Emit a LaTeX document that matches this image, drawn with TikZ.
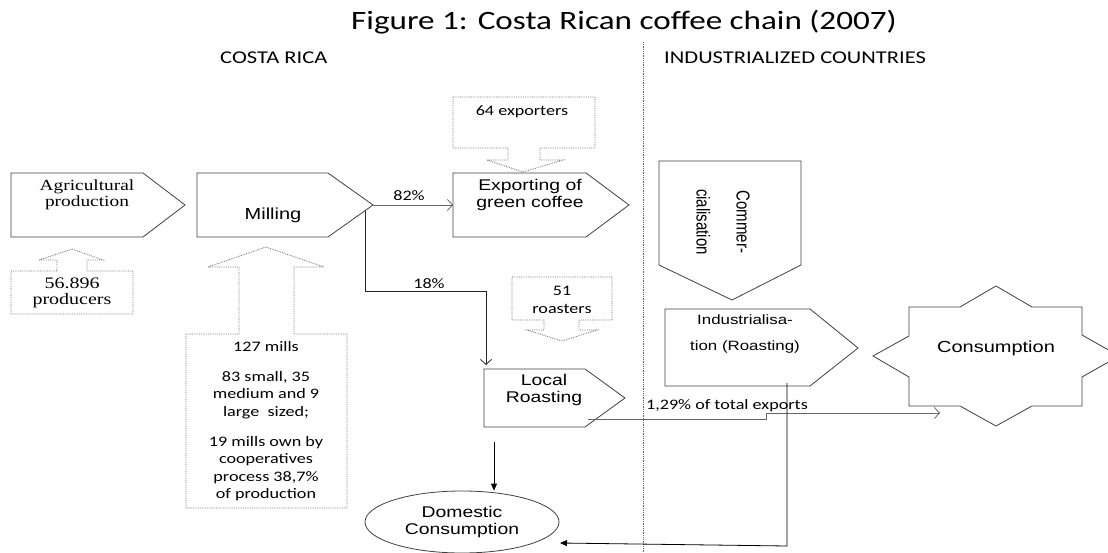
\documentclass[tikz,border=0pt]{standalone}
\usepackage{fontspec}
\setmainfont{Carlito}
\usetikzlibrary{arrows.meta,shapes.geometric}
\newfontfamily\fcal[FakeStretch=1.25]{Carlito}
\newfontfamily\fari[FakeStretch=1.25]{Liberation Sans}
\newfontfamily\ftim[FakeStretch=1.25]{Liberation Serif}
\newfontfamily\fariN{Liberation Sans}
\begin{document}
\begin{tikzpicture}[x=1pt,y=-1pt,
  shp/.style={draw=black!75, line width=0.8pt, line join=miter},
  callout/.style={draw=black!55, densely dotted, line width=0.8pt},
  lbl/.style={font=\fcal\fontsize{14.5}{17.5}\selectfont, align=center, inner sep=0pt},
  sans/.style={font=\fari\fontsize{15.5}{17}\selectfont, align=center, inner sep=0pt},
  serif/.style={font=\ftim\fontsize{15.5}{16.5}\selectfont, align=center, inner sep=0pt},
  garrow/.style={draw=black!60, line width=0.8pt, -{Straight Barb[length=5pt,width=11pt]}},
  barrow/.style={draw=black!85, line width=0.8pt, -{Straight Barb[length=5pt,width=11pt]}},
  karrow/.style={draw=black, line width=0.8pt, -{Triangle[length=7pt,width=6pt]}},
]
\useasboundingbox (0,0) rectangle (1108,553);
\fill[white] (0,0) rectangle (1108,553);

% headings
\node[font=\fcal\fontsize{26.5}{30}\selectfont, inner sep=0pt] (title) at (624,22) {Figure 1: Costa Rican coffee chain (2007)};
\node[lbl, anchor=west, font=\fcal\fontsize{18}{20}\selectfont] (cr) at (220,58) {COSTA RICA};
\node[lbl, anchor=west, font=\fcal\fontsize{18}{20}\selectfont] (ic) at (664,58) {INDUSTRIALIZED COUNTRIES};

% divider
\coordinate (dvtop) at (643,42);
\coordinate (dvbot) at (643,553);
\draw[densely dotted, black!60, line width=0.8pt] (dvtop) -- (dvbot);

% process shapes
\draw[shp] (11,173) -- (143,173) -- (185,205) -- (143,237) -- (11,237) -- cycle;
\node[serif] (agri) at (87,195) {Agricultural\\production};

\draw[shp] (197,173) -- (328,173) -- (373,205) -- (328,237) -- (197,237) -- cycle;
\coordinate (milltip) at (373,205);
\coordinate (mill18) at (365,211);
\node[sans, font=\fari\fontsize{16}{17}\selectfont] (mill) at (273,215) {Milling};

\draw[shp] (453,173) -- (586,173) -- (629,205) -- (586,237) -- (453,237) -- cycle;
\coordinate (expleft) at (453,205);
\node[sans] (exp) at (530,194.5) {Exporting of\\green coffee};

\draw[shp] (484,369) -- (585,369) -- (625,398) -- (585,427) -- (484,427) -- cycle;
\coordinate (lrtop) at (486,369);
\coordinate (lrout) at (588,419);
\coordinate (lrbot) at (494,442);
\node[sans] (lr) at (544,390) {Local\\Roasting};

\draw[shp] (659,161) -- (801,161) -- (801,265) -- (732,300) -- (659,265) -- cycle;
\node[font=\fariN\fontsize{15}{18}\selectfont, align=center, inner sep=0pt, xscale=1.25, rotate=-90] (comm) at (723,222) {Commer-\\[14pt]cialisation};

\draw[shp] (665,309) -- (810,309) -- (858,348) -- (810,386) -- (665,386) -- cycle;
\coordinate (indbot) at (787,383);
\node[sans, font=\fari\fontsize{13.5}{16}\selectfont] (ind) at (745,334) {Industrialisa-\\[10pt]tion (Roasting)};

\draw[shp] (909,307) -- (960,307) -- (996,286) -- (1032,307) -- (1082,307) -- (1082,335) -- (1119,356) -- (1082,377) -- (1082,406) -- (1032,406) -- (996,426) -- (960,406) -- (909,406) -- (909,377) -- (873,356) -- (909,336) -- cycle;
\coordinate (consin) at (940,413);
\node[sans, font=\fari\fontsize{16}{18}\selectfont] (cons) at (996,348) {Consumption};

\node[draw=black!75, line width=0.8pt, ellipse, minimum width=194pt, minimum height=62pt, inner sep=0pt, sans] (dom) at (462,522) {Domestic\\Consumption};
\coordinate (domin) at (560,543);

% callouts
\draw[callout] (11,314) -- (11,271) -- (57,271) -- (57,260) -- (39,260) -- (72,249) -- (103,260) -- (87,260) -- (87,271) -- (133,271) -- (133,314) -- cycle;
\node[serif, font=\ftim\fontsize{16}{16}\selectfont] (prod) at (72,293) {56.896\\producers};

\draw[callout] (186,508) -- (186,334) -- (239,334) -- (239,267) -- (208,267) -- (266,247) -- (324,267) -- (294,267) -- (294,334) -- (347,334) -- (347,508) -- cycle;
\node[lbl, anchor=north] (mills) at (266,341) {127 mills\\[12.5pt]83 small, 35\\medium and 9\\large\ \ sized;\\[12.5pt]19 mills own by\\cooperatives\\process 38,7\%\\of production};

\draw[callout] (453,97) -- (595,97) -- (595,148) -- (540,148) -- (540,160) -- (563,160) -- (523,172) -- (487,160) -- (508,160) -- (508,148) -- (453,148) -- cycle;
\node[lbl] (expo) at (522,112) {64 exporters};

\draw[callout] (512,277) -- (612,277) -- (612,320) -- (579,320) -- (579,330) -- (597,330) -- (562,341) -- (527,330) -- (544,330) -- (544,320) -- (512,320) -- cycle;
\node[lbl] (roast) at (562,300) {51\\roasters};

% connectors
\draw[garrow] (milltip) -- node[lbl, above=4pt, pos=0.45] (p82) {82\%} (expleft);
\draw[barrow, shorten >=4pt] (mill18) -- ++(0,80) -| (lrtop);
\node[lbl] (p18) at (429,284) {18\%};
\draw[garrow] (lrout) -- (766,419) -- (766,413) -- (consin);
\node[lbl] (p129) at (727,406) {1,29\% of total exports};
\draw[karrow] (lrbot) -- (dom.north -| lrbot);
\draw[karrow] (indbot) -- (787,546) -- (domin);
\end{tikzpicture}
\end{document}
